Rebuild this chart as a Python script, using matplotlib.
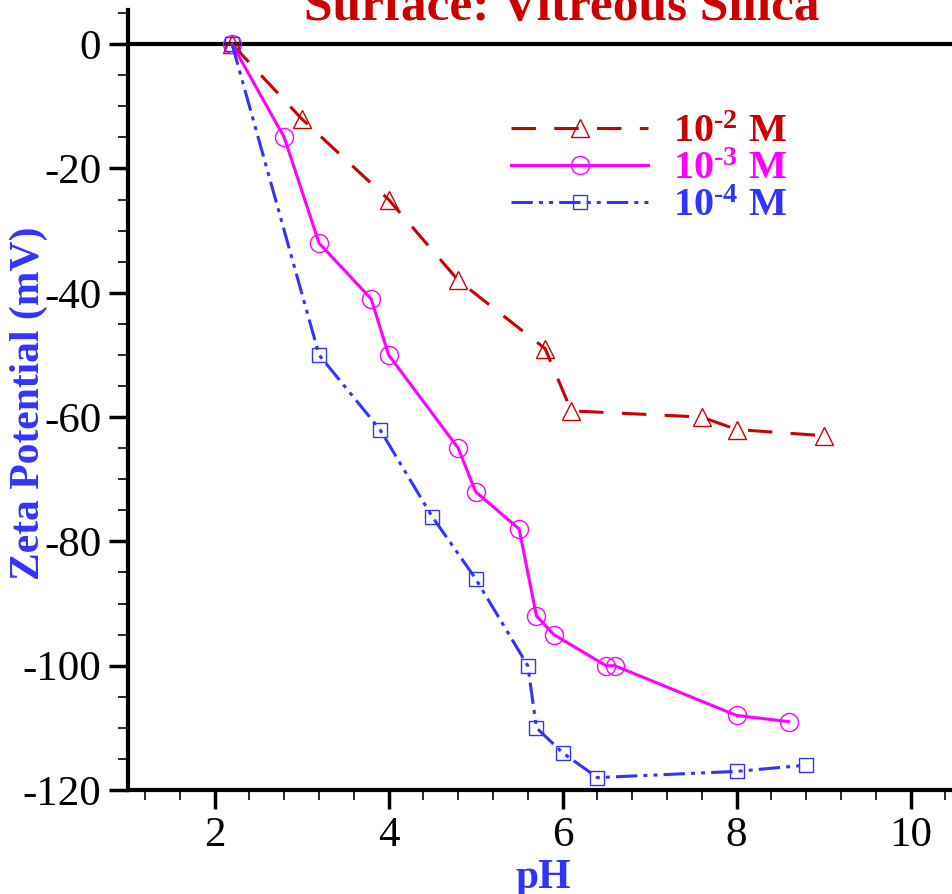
import matplotlib
matplotlib.use("Agg")
import matplotlib.pyplot as plt
from matplotlib.ticker import MultipleLocator

plt.rcParams['font.family'] = 'Liberation Serif'
plt.rcParams['axes.unicode_minus'] = False
plt.rcParams['mathtext.fontset'] = 'custom'
plt.rcParams['mathtext.rm'] = 'Liberation Serif:bold'
plt.rcParams['mathtext.bf'] = 'Liberation Serif:bold'
plt.rcParams['mathtext.it'] = 'Liberation Serif:bold:italic'

# 10^-2 M
ph_2 = [2.2, 3.0, 4.0, 4.8, 5.8, 6.1, 7.6, 8.0, 9.0]
zeta_2 = [0, -12, -25, -38, -49, -59, -60, -62, -63]
# 10^-3 M
ph_3 = [2.2, 2.8, 3.2, 3.8, 4.0, 4.8, 5.0, 5.5, 5.7, 5.9, 6.5, 6.6, 8.0, 8.6]
zeta_3 = [0, -15, -32, -41, -50, -65, -72, -78, -92, -95, -100, -100, -108, -109]
# 10^-4 M
ph_4 = [2.2, 3.2, 3.9, 4.5, 5.0, 5.6, 5.7, 6.0, 6.4, 8.0, 8.8]
zeta_4 = [0, -50, -62, -76, -86, -100, -110, -114, -118, -117, -116]

labels = ['10$^{\\text{-2}}$ M', '10$^{\\text{-3}}$ M', '10$^{\\text{-4}}$ M']
red, magenta, blue = '#cc0000', '#ff00ff', '#3333ff'

fig = plt.figure(figsize=(9.52, 8.94), dpi=100)
ax = fig.add_axes([0.1341, 0.1163, 0.868, 0.8726])

ax.axhline(0, color='k', lw=3, zorder=1)

ax.plot(ph_2, zeta_2, color=red, lw=2.2, dashes=(8, 6), marker='^', ms=13,
        mfc='none', mec=red, mew=1.0, label=labels[0])
ax.plot(ph_3, zeta_3, color=magenta, lw=2.2, marker='o', ms=13,
        mfc='none', mec=magenta, mew=1.0, label=labels[1])
ax.plot(ph_4, zeta_4, color=blue, lw=2.2, dashes=(7, 2, 1.3, 2, 1.3, 2),
        marker='s', ms=10, mfc='none', mec=blue, mew=1.0, label=labels[2])

ax.set_xlim(1, 10.5)
ax.set_ylim(-120, 5.5)
ax.set_xticks([2, 4, 6, 8, 10])
ax.set_yticks([0, -20, -40, -60, -80, -100, -120])
ax.xaxis.set_minor_locator(MultipleLocator(0.4))
ax.yaxis.set_minor_locator(MultipleLocator(5))
ax.tick_params(which='major', length=14, width=2.5, labelsize=31, pad=5)
ax.tick_params(which='minor', length=7, width=1.2)

for s in ['top', 'right']:
    ax.spines[s].set_visible(False)
for s in ['left', 'bottom']:
    ax.spines[s].set_linewidth(3)

ax.set_xlabel('pH', color=blue, fontsize=30, fontweight='bold')
ax.xaxis.set_label_coords(0.503, -0.088)
fig.text(0.030, 0.549, 'Zeta Potential (mV)', color=blue, fontsize=30,
         fontweight='bold', rotation=90, ha='center', va='center')

ax.legend(loc='upper left', bbox_to_anchor=(0.44, 0.893), frameon=False,
          prop={'size': 29, 'weight': 'bold'}, labelcolor='linecolor',
          handlelength=3.4, handletextpad=0.6, labelspacing=0.0,
          numpoints=1, borderpad=0)

fig.text(0.59, 0.9776, 'Surface: Vitreous Silica', color=red, fontsize=37,
         fontweight='bold', ha='center', va='baseline')

fig.savefig('out.png', dpi=100)
